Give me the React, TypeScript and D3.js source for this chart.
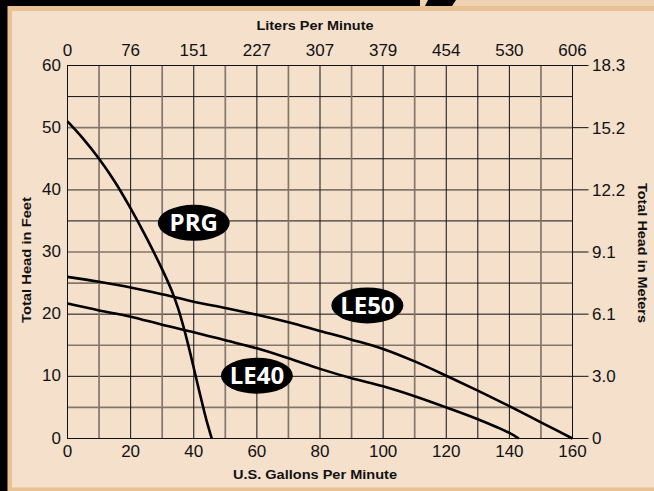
import React from 'react';
import * as d3 from 'd3';

// axis ticks
const gpmTicks = [0, 20, 40, 60, 80, 100, 120, 140, 160];
const lpmLabels = ['0', '76', '151', '227', '307', '379', '454', '530', '606'];
const feetTicks = [0, 10, 20, 30, 40, 50, 60];
const meterLabels = ['0', '3.0', '6.1', '9.1', '12.2', '15.2', '18.3'];

// grid lines (gpm every 10, feet every 5); some are drawn grey in the original
const gridX = d3.range(10, 160, 10);
const gridY = d3.range(5, 60, 5);
const greyX = [10, 30, 50, 70, 90, 110, 150];
const greyY = [5, 15, 25, 30, 40, 50];

// pump curves: flow (gpm) vs head (ft)
const prgFlow = [0, 5, 10, 15, 20, 25, 30, 33, 35, 37, 39, 41, 43, 44, 45.7];
const prgHead = [51, 48.2, 45, 41.3, 37, 32.3, 27.2, 23.8, 21, 17.5, 13.5, 9.2, 5, 3, 0];
const le50Flow = [0, 10, 20, 30, 40, 50, 60, 70, 80, 90, 100, 110, 120, 130, 140, 150, 160];
const le50Head = [26, 25.2, 24.3, 23.2, 22, 21, 19.9, 18.7, 17.3, 15.9, 14.4, 12.4, 10.1, 7.7, 5.2, 2.6, 0];
const le40Flow = [0, 10, 20, 30, 40, 50, 60, 70, 80, 90, 100, 110, 120, 130, 140, 143];
const le40Head = [21.7, 20.6, 19.6, 18.3, 17.1, 15.8, 14.5, 12.9, 11.2, 9.7, 8.4, 6.8, 5, 3.1, 0.9, 0];

const labelNames = ['PRG', 'LE50', 'LE40'];
const labelFlow = [40, 95, 60];
const labelHead = [34.7, 21.4, 10.1];

const W = 654;
const H = 491;
const font = '"Liberation Sans", Arial, Helvetica, sans-serif';

export default function App() {
  const x = d3.scaleLinear().domain([0, 160]).range([67.5, 572.5]);
  const y = d3.scaleLinear().domain([0, 60]).range([438.5, 65.5]);

  const line = d3
    .line<[number, number]>()
    .x((d) => x(d[0]))
    .y((d) => y(d[1]))
    .curve(d3.curveCatmullRom.alpha(0.5));

  const series = [
    prgFlow.map((f, i) => [f, prgHead[i]] as [number, number]),
    le50Flow.map((f, i) => [f, le50Head[i]] as [number, number]),
    le40Flow.map((f, i) => [f, le40Head[i]] as [number, number]),
  ];

  const grey = '#85766a';

  return (
    <svg
      width={W}
      height={H}
      style={{ position: 'absolute', left: 0, top: 0, display: 'block' }}
      fontFamily={font}
    >
      {/* frame */}
      <rect x={0} y={0} width={W} height={H} fill="#000" />
      <rect x={420} y={0} width={W - 420} height={7} fill="#efd2b2" />
      <polygon points="428,0 456,0 452,6 425,6" fill="#000" />
      <rect x={7.5} y={6} width={W - 7.5} height={H - 6} fill="#e8c294" />
      <rect x={12} y={11} width={W - 12} height={476.5} fill="#f5e0cc" />

      {/* grid */}
      {gridY.map((v) => (
        <line
          key={'gy' + v}
          x1={x(0)}
          x2={x(160)}
          y1={y(v)}
          y2={y(v)}
          stroke={greyY.includes(v) ? grey : '#111'}
          strokeWidth={greyY.includes(v) ? 1.7 : 1}
        />
      ))}
      {gridX.map((v) => (
        <line
          key={'gx' + v}
          x1={x(v)}
          x2={x(v)}
          y1={y(0)}
          y2={y(60)}
          stroke={greyX.includes(v) ? grey : '#111'}
          strokeWidth={greyX.includes(v) ? 1.7 : 1}
        />
      ))}
      <rect
        x={x(0)}
        y={y(60)}
        width={x(160) - x(0)}
        height={y(0) - y(60)}
        fill="none"
        stroke="#111"
        strokeWidth={1}
      />

      {/* right axis ticks */}
      {feetTicks.map((v) => (
        <line key={'rt' + v} x1={x(160)} x2={x(160) + 16} y1={y(v)} y2={y(v)} stroke="#111" strokeWidth={1} />
      ))}

      {/* curves */}
      {series.map((s, i) => (
        <path key={'c' + i} d={line(s) || ''} fill="none" stroke="#000" strokeWidth={2.6} />
      ))}

      {/* curve labels */}
      {labelNames.map((n, i) => (
        <g key={n} transform={`translate(${x(labelFlow[i])},${y(labelHead[i])})`}>
          <ellipse rx={36} ry={18} fill="#000" />
          <text
            textAnchor="middle"
            dy="0.36em"
            fill="#fff"
            fontWeight="bold"
            fontSize={24}
            fontFamily='"Open Sans", "Liberation Sans", sans-serif'
          >
            {n}
          </text>
        </g>
      ))}

      {/* left axis labels */}
      {feetTicks.map((v) => (
        <text key={'lf' + v} x={61} y={y(v)} dy="0.3em" textAnchor="end" fontSize={17} fill="#111">
          {v}
        </text>
      ))}
      {/* right axis labels */}
      {meterLabels.map((m, i) => (
        <text key={'rm' + m} x={592} y={y(feetTicks[i])} dy="0.35em" fontSize={17} fill="#111">
          {m}
        </text>
      ))}
      {/* bottom labels */}
      {gpmTicks.map((v) => (
        <text key={'bx' + v} x={x(v)} y={457} textAnchor="middle" fontSize={17} fill="#111">
          {v}
        </text>
      ))}
      {/* top labels */}
      {gpmTicks.map((v, i) => (
        <text key={'tx' + v} x={x(v)} y={56} textAnchor="middle" fontSize={17} fill="#111">
          {lpmLabels[i]}
        </text>
      ))}

      {/* titles */}
      <text
        x={315}
        y={29.5}
        textAnchor="middle"
        fontSize={13}
        fontWeight="bold"
        fill="#111"
        textLength={117}
        lengthAdjust="spacingAndGlyphs"
      >
        Liters Per Minute
      </text>
      <text
        x={315}
        y={479}
        textAnchor="middle"
        fontSize={13}
        fontWeight="bold"
        fill="#111"
        textLength={164}
        lengthAdjust="spacingAndGlyphs"
      >
        U.S. Gallons Per Minute
      </text>
      <text
        transform="translate(31,260) rotate(-90)"
        textAnchor="middle"
        fontSize={13}
        fontWeight="bold"
        fill="#111"
        textLength={126}
        lengthAdjust="spacingAndGlyphs"
      >
        Total Head in Feet
      </text>
      <text
        transform="translate(638,253) rotate(90)"
        textAnchor="middle"
        fontSize={13}
        fontWeight="bold"
        fill="#111"
        textLength={140}
        lengthAdjust="spacingAndGlyphs"
      >
        Total Head in Meters
      </text>
    </svg>
  );
}
